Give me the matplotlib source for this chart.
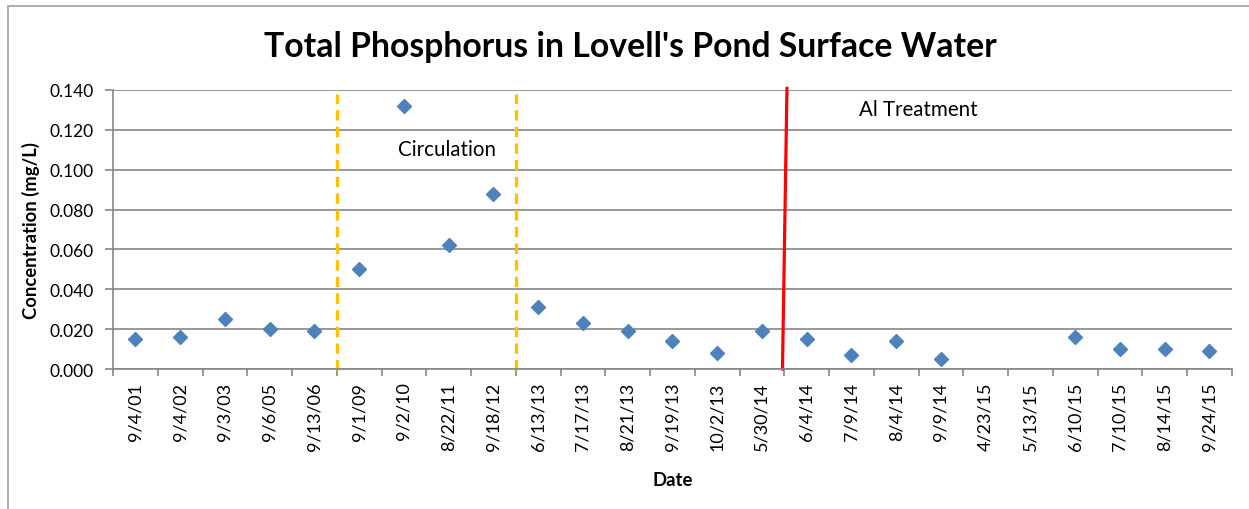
import matplotlib
matplotlib.use("Agg")
import matplotlib.pyplot as plt
from matplotlib.patches import Rectangle
import numpy as np

plt.rcParams['font.family'] = ['Lato', 'DejaVu Sans']

dates = ["9/4/01", "9/4/02", "9/3/03", "9/6/05", "9/13/06", "9/1/09", "9/2/10",
         "8/22/11", "9/18/12", "6/13/13", "7/17/13", "8/21/13", "9/19/13",
         "10/2/13", "5/30/14", "6/4/14", "7/9/14", "8/4/14", "9/9/14",
         "4/23/15", "5/13/15", "6/10/15", "7/10/15", "8/14/15", "9/24/15"]
tp = [0.015, 0.016, 0.025, 0.020, 0.019, 0.050, 0.132, 0.062, 0.088,
      0.031, 0.023, 0.019, 0.014, 0.008, 0.019, 0.015, 0.007, 0.014,
      0.005, np.nan, np.nan, 0.016, 0.010, 0.010, 0.009]

circ_start = 4.5
circ_end = 8.5
al_treat = 14.5

fig = plt.figure(figsize=(12.49, 5.10), dpi=100)
ax = fig.add_axes([0.0905, 0.2745, 0.8957, 0.5471])

x = np.arange(len(dates))
ax.plot(x, tp, linestyle="none", marker="D", markersize=7.5, color="#4F81BD")

# period markers
for xv in (circ_start, circ_end):
    ax.plot([xv, xv], [-0.0005, 0.138], color="#FFC000", linewidth=2.4,
            dashes=(3.1, 1.9), clip_on=False)
ax.plot([al_treat + 0.06, al_treat - 0.04], [0.1408, 0.0], color="#FF0000",
        linewidth=2.3, clip_on=False)

ax.text(6.97, 0.1105, "Circulation", fontsize=14.8, ha="center", va="center")
ax.text(17.49, 0.1305, "Al Treatment", fontsize=14.8, ha="center", va="center")

ax.set_xlim(-0.5, len(dates) - 0.5)
ax.set_ylim(0, 0.14)
ax.set_yticks(np.arange(0, 0.141, 0.02))
ax.set_yticklabels([f"{v:.3f}" for v in np.arange(0, 0.141, 0.02)])
ax.set_xticks(x)
ax.set_xticklabels(dates, rotation=90)
ax.set_xticks(np.arange(-0.5, len(dates), 1), minor=True)
ax.tick_params(axis="x", which="major", length=0, pad=9, labelsize=13)
ax.tick_params(axis="x", which="minor", length=5, color="#868686", width=1.2)
ax.tick_params(axis="y", length=6, color="#868686", width=1.2, pad=8, labelsize=12.5)

ax.grid(axis="y", color="#868686", linewidth=1.2)
ax.set_axisbelow(True)
for s in ("top", "right"):
    ax.spines[s].set_visible(False)
for s in ("left", "bottom"):
    ax.spines[s].set_color("#868686")
    ax.spines[s].set_linewidth(1.2)

ax.set_xlabel("Date", fontsize=13.3, fontweight="bold", labelpad=15)
ax.set_ylabel("Concentration (mg/L)", fontsize=13.3, fontweight="bold", labelpad=7)
fig.text(0.505, 0.907, "Total Phosphorus in Lovell's Pond Surface Water",
         fontsize=24.3, fontweight="bold", ha="center", va="center")

fig.patches.append(Rectangle((8 / 1249, -0.1), 1.2, 1.1 - 7 / 510, transform=fig.transFigure,
                             fill=False, edgecolor="#A0A0A0", linewidth=1.2))

fig.savefig("out.png", dpi=100)
